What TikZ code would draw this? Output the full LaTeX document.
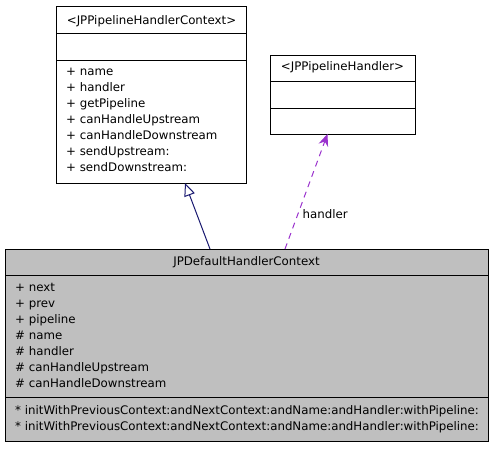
\documentclass[tikz,border=0pt]{standalone}
\usepackage{fontspec}
\setmainfont{DejaVu Sans}
\usetikzlibrary{arrows.meta}
\definecolor{inhcol}{HTML}{191970}
\definecolor{usecol}{HTML}{9A32CD}
\definecolor{boxgray}{HTML}{BFBFBF}
\tikzset{
  classbox/.style={draw=black, line width=1pt, anchor=north west, inner sep=0pt, outer sep=0pt},
  divider/.style={draw=black, line width=1pt},
  txt/.style={font=\fontsize{11.8}{14}\selectfont, inner sep=0pt, anchor=base west},
  ttl/.style={font=\fontsize{11.8}{14}\selectfont, inner sep=0pt, anchor=base},
}
\begin{document}
\begin{tikzpicture}[x=1pt,y=-1pt]
\useasboundingbox (0,0) rectangle (493,448);
% class 1
\node[classbox, fill=white, minimum width=190pt, minimum height=176.5pt] (ctx) at (56.5,6.5) {};
\draw[divider] (56.5,33) -- (246.5,33);
\draw[divider] (56.5,60.5) -- (246.5,60.5);
\node[ttl] (ctxt) at (151.5,24.2) {<JPPipelineHandlerContext>};
\foreach \t [count=\i from 0] in {+ name,+ handler,+ getPipeline,+ canHandleUpstream,+ canHandleDownstream,+ sendUpstream:,+ sendDownstream:}
  \node[txt] (ctxm\i) at (66,75.8+16*\i) {\t};
% class 2
\node[classbox, fill=white, minimum width=145pt, minimum height=79pt] (hdl) at (270,55) {};
\draw[divider] (270,81.5) -- (415,81.5);
\draw[divider] (270,108) -- (415,108);
\node[ttl] (hdlt) at (342.5,70.8) {<JPPipelineHandler>};
% class 3
\node[classbox, fill=boxgray, minimum width=483pt, minimum height=192pt] (dflt) at (5,249) {};
\draw[divider] (5,275.5) -- (488,275.5);
\draw[divider] (5,397.5) -- (488,397.5);
\node[ttl] (dfltt) at (246.5,265) {JPDefaultHandlerContext};
\foreach \t [count=\i from 0] in {+ next,+ prev,+ pipeline,\# name,\# handler,\# canHandleUpstream,\# canHandleDownstream}
  \node[txt] (dfltm\i) at (15,291.8+16*\i) {\t};
\node[txt] (dfltf0) at (15,414.8) {* initWithPreviousContext:andNextContext:andName:andHandler:withPipeline:};
\node[txt] (dfltf1) at (15,430.3) {* initWithPreviousContext:andNextContext:andName:andHandler:withPipeline:};
% connectors
\coordinate (inhS) at (210,249);
\coordinate (inhE) at (185,183);
\coordinate (useS) at (285,249);
\coordinate (useE) at (327.5,134);
\draw[inhcol, line width=1pt, -{Triangle[open, length=13pt, width=11pt]}] (inhS) -- (inhE);
\draw[usecol, line width=1pt, dash pattern=on 6pt off 5pt, -{Stealth[length=12pt, width=10pt, inset=4pt]}] (useS) -- (useE);
\node[txt, anchor=west] (usel) at (302.5,214) {handler};
\end{tikzpicture}
\end{document}
